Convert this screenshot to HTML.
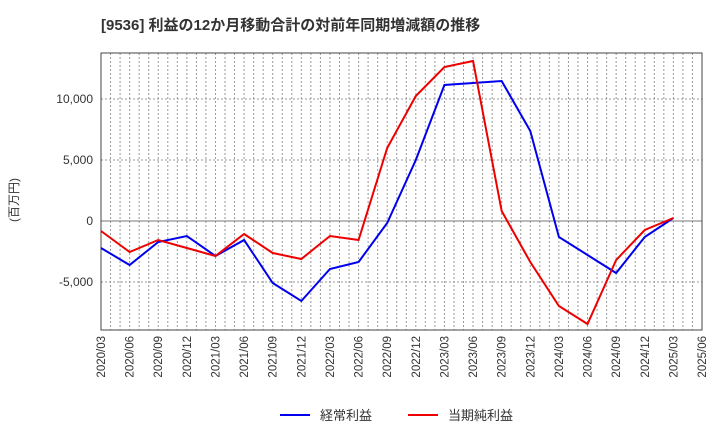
<!DOCTYPE html>
<html><head><meta charset="utf-8"><style>body{margin:0;background:#fff}svg{font-family:"Liberation Sans","Noto Sans CJK JP",sans-serif}</style></head>
<body>
<svg id="c" width="720" height="440">
<text x="101" y="30" font-size="15" font-weight="bold" fill="#333">[9536]  利益の12か月移動合計の対前年同期増減額の推移</text>
<text transform="translate(18,200) rotate(-90)" font-size="12" fill="#333" text-anchor="middle">(百万円)</text>
<g id="grid"></g><g id="axes"></g><g id="series"></g>
<g>
<line x1="280" y1="415" x2="310" y2="415" stroke="#0000ee" stroke-width="2"/>
<text x="320" y="420" font-size="13" fill="#333">経常利益</text>
<line x1="408" y1="415" x2="438" y2="415" stroke="#ee0000" stroke-width="2"/>
<text x="448" y="420" font-size="13" fill="#333">当期純利益</text>
</g>
</svg>
<script>
const categories=["2020/03","2020/06","2020/09","2020/12","2021/03","2021/06","2021/09","2021/12","2022/03","2022/06","2022/09","2022/12","2023/03","2023/06","2023/09","2023/12","2024/03","2024/06","2024/09","2024/12","2025/03","2025/06"];
const keijo=[-2213,-3607,-1721,-1230,-2869,-1557,-5082,-6557,-3934,-3361,-164,5000,11148,11311,11475,7377,-1311,-2787,-4262,-1311,246];
const junri=[-820,-2541,-1557,-2213,-2869,-1066,-2623,-3115,-1230,-1557,5984,10246,12623,13115,820,-3361,-6967,-8443,-3197,-738,246];
const yTicks=[-5000,0,5000,10000];
const yTickLabels=["-5,000","0","5,000","10,000"];
const L=101,R=702,T=53,B=330,NS="http://www.w3.org/2000/svg";
const xs=i=>L+(R-L)*i/(categories.length-1);
const ys=v=>221-v*61/5000;
function mk(p,t,a){const e=document.createElementNS(NS,t);for(const k in a)e.setAttribute(k,a[k]);p.appendChild(e);return e;}
const g=document.getElementById('grid'),ax=document.getElementById('axes'),s=document.getElementById('series');
for(let m=1;m<(categories.length-1)*3;m++){const x=L+(R-L)*m/((categories.length-1)*3);
const l=mk(g,'line',{x1:x,x2:x,y1:T,y2:B,stroke:'#999','stroke-dasharray':'2,2'});
}
yTicks.forEach((v,i)=>{const y=ys(v);
const l=mk(g,'line',{x1:L,x2:R,y1:y,y2:y,stroke:v===0?'#777':'#999','stroke-dasharray':v===0?'':'2,2'});

const t=mk(ax,'text',{x:L-8,y:y+4,'font-size':12,fill:'#333','text-anchor':'end'});t.textContent=yTickLabels[i];
});
const f=mk(ax,'rect',{x:L,y:T,width:R-L,height:B-T,fill:'none',stroke:'#444'});

categories.forEach((c,i)=>{const x=xs(i);
const t=mk(ax,'text',{transform:`translate(${x+4},${B+6}) rotate(-90)`,'font-size':11.5,fill:'#333','text-anchor':'end'});t.textContent=c;
});
[[keijo,'#0000ee','series-keijo'],[junri,'#ee0000','series-junri']].forEach(([d,col,n])=>{
const p=mk(s,'polyline',{points:d.map((v,i)=>xs(i)+','+ys(v)).join(' '),fill:'none',stroke:col,'stroke-width':2});
});
</script>
</body></html>
